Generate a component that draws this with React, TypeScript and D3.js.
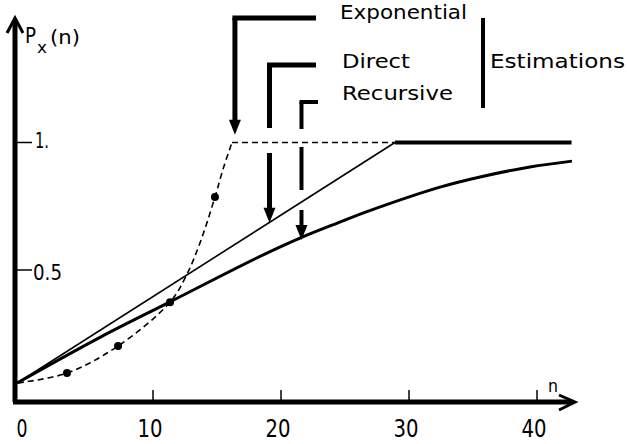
import React from "react";
import * as d3 from "d3";

// ---- data ----
const xTicks = [0, 10, 20, 30, 40];
const yTicks = [0.5, 1];
const yTickLabels = ["0.5", "1."];

// Exponential estimation (dashed, with measured dots)
const expN = [-0.55, 3.28, 7.27, 11.33, 12.6, 13.67, 14.84, 15.5, 16.17];
const expP = [0.057, 0.096, 0.202, 0.374, 0.478, 0.606, 0.786, 0.9, 1.0];
const expDotIdx = [1, 2, 3, 6];
const expPlateauN = [16.17, 28.9];
const expPlateauP = [1, 1];

// Direct estimation (thin straight line, then saturates at 1)
const dirN = [-0.6, 28.9];
const dirP = [0.057, 1.0];
const satN = [28.9, 42.7];
const satP = [1, 1];

// Recursive estimation (thick curve)
const recN = [-0.62, 5.86, 11.33, 18.1, 21.48, 24.4, 26.72, 32.42, 35.55, 39.45, 42.73];
const recP = [0.057, 0.236, 0.375, 0.547, 0.625, 0.684, 0.729, 0.825, 0.865, 0.904, 0.927];

// annotation arrows: label, target n, target value
const annLabels = ["Exponential", "Direct", "Recursive"];
const annN = [16.4, 19.1, 21.6];
const annP = [1.03, 0.685, 0.618];

const FONT = "'DejaVu Sans', 'Liberation Sans', sans-serif";

export default function App() {
  const x = d3.scaleLinear().domain([0, 40]).range([25, 537]);
  const y = d3.scaleLinear().domain([0, 1]).range([397.5, 142.5]);

  const axisX0 = 15;
  const axisY0 = 402;

  const curve = (ns: number[], ps: number[]) =>
    d3
      .line<number>()
      .x((_, i) => x(ns[i]))
      .y((_, i) => y(ps[i]))
      .curve(d3.curveCatmullRom.alpha(0.5))(ns.map((_, i) => i)) || "";
  const straight = (ns: number[], ps: number[]) =>
    d3
      .line<number>()
      .x((_, i) => x(ns[i]))
      .y((_, i) => y(ps[i]))(ns.map((_, i) => i)) || "";

  // leader layout
  const leaderTop = [18, 65, 102];
  const leaderEnd = [316, 316, 318];
  const leaderW = [5, 5, 4];
  const leaderSegs: number[][][] = [
    [[18, 124]],
    [[65, 128], [153, 210]],
    [[102, 129], [147, 190], [210, 227]],
  ];

  return (
    <svg width={627} height={444} style={{ display: "block", position: "absolute", left: 0, top: 0, background: "#fff" }}>
      <rect width={627} height={444} fill="#fff" />
      {/* axes */}
      <line x1={axisX0} y1={axisY0} x2={axisX0} y2={20} stroke="#000" strokeWidth={5} />
      <polyline points={`${axisX0 - 8},33 ${axisX0},18 ${axisX0 + 8},33`} fill="none" stroke="#000" strokeWidth={3} />
      <line x1={axisX0 - 2} y1={axisY0} x2={573} y2={axisY0} stroke="#000" strokeWidth={5} />
      <polyline points={`559,395 575,402 559,410`} fill="none" stroke="#000" strokeWidth={3} />

      {/* x ticks */}
      {xTicks.filter((t) => t > 0).map((t) => (
        <line key={"xt" + t} x1={x(t)} x2={x(t)} y1={axisY0} y2={390} stroke="#000" strokeWidth={1.5} />
      ))}
      {xTicks.map((t) => (
        <text
          key={"xl" + t}
          x={x(t) - 3}
          y={437}
          textAnchor="middle"
          fontFamily={FONT}
          fontSize={25}
          textLength={String(t).length === 1 ? 11 : 25}
          lengthAdjust="spacingAndGlyphs"
        >
          {t}
        </text>
      ))}
      {/* y ticks */}
      {yTicks.map((t, i) => (
        <g key={"yt" + t}>
          <line x1={axisX0} x2={32} y1={y(t)} y2={y(t)} stroke="#000" strokeWidth={1.5} />
          <text
            x={i === 0 ? 33 : 35}
            y={y(t) + (i === 0 ? 10 : 5)}
            fontFamily={FONT}
            fontSize={22}
            textLength={i === 0 ? 29 : 14}
            lengthAdjust="spacingAndGlyphs"
          >
            {yTickLabels[i]}
          </text>
        </g>
      ))}
      {/* axis titles */}
      <text x={25} y={43} fontFamily={FONT} fontSize={21} textLength={11} lengthAdjust="spacingAndGlyphs">P</text>
      <text x={37} y={53} fontFamily={FONT} fontSize={15} textLength={10} lengthAdjust="spacingAndGlyphs">x</text>
      <text x={50} y={44} fontFamily={FONT} fontSize={20} textLength={30} lengthAdjust="spacingAndGlyphs">(n)</text>
      <text x={548} y={392} fontFamily={FONT} fontSize={17} textLength={10} lengthAdjust="spacingAndGlyphs">n</text>

      {/* curves */}
      <path d={curve(expN, expP)} fill="none" stroke="#000" strokeWidth={1.6} strokeDasharray="6,4" />
      <path d={straight(expPlateauN, expPlateauP)} fill="none" stroke="#000" strokeWidth={1.6} strokeDasharray="6,4" />
      {expDotIdx.map((i) => (
        <circle key={"d" + i} cx={x(expN[i])} cy={y(expP[i])} r={4} fill="#000" />
      ))}
      <path d={straight(dirN, dirP)} fill="none" stroke="#000" strokeWidth={1.6} />
      <path d={straight(satN, satP)} fill="none" stroke="#000" strokeWidth={4} />
      <path d={curve(recN, recP)} fill="none" stroke="#000" strokeWidth={3} />

      {/* annotation leaders */}
      {annLabels.map((lab, k) => {
        const ax = x(annN[k]);
        const tipY = y(annP[k]);
        const w = leaderW[k];
        return (
          <g key={lab}>
            {leaderSegs[k].map((s, j) => (
              <line key={j} x1={ax} x2={ax} y1={s[0]} y2={s[1]} stroke="#000" strokeWidth={w} />
            ))}
            <line x1={ax - w / 2} x2={leaderEnd[k]} y1={leaderTop[k]} y2={leaderTop[k]} stroke="#000" strokeWidth={w} />
            <polygon points={`${ax - 6},${tipY - 15} ${ax + 6},${tipY - 15} ${ax},${tipY}`} fill="#000" />
          </g>
        );
      })}

      {/* legend text */}
      <text x={340} y={19} fontFamily={FONT} fontSize={19} textLength={127} lengthAdjust="spacingAndGlyphs">Exponential</text>
      <text x={342} y={68} fontFamily={FONT} fontSize={19} textLength={68} lengthAdjust="spacingAndGlyphs">Direct</text>
      <text x={342} y={100} fontFamily={FONT} fontSize={19} textLength={111} lengthAdjust="spacingAndGlyphs">Recursive</text>
      <line x1={483} x2={483} y1={18} y2={108} stroke="#000" strokeWidth={4} />
      <text x={490} y={68} fontFamily={FONT} fontSize={19} textLength={135} lengthAdjust="spacingAndGlyphs">Estimations</text>
    </svg>
  );
}
